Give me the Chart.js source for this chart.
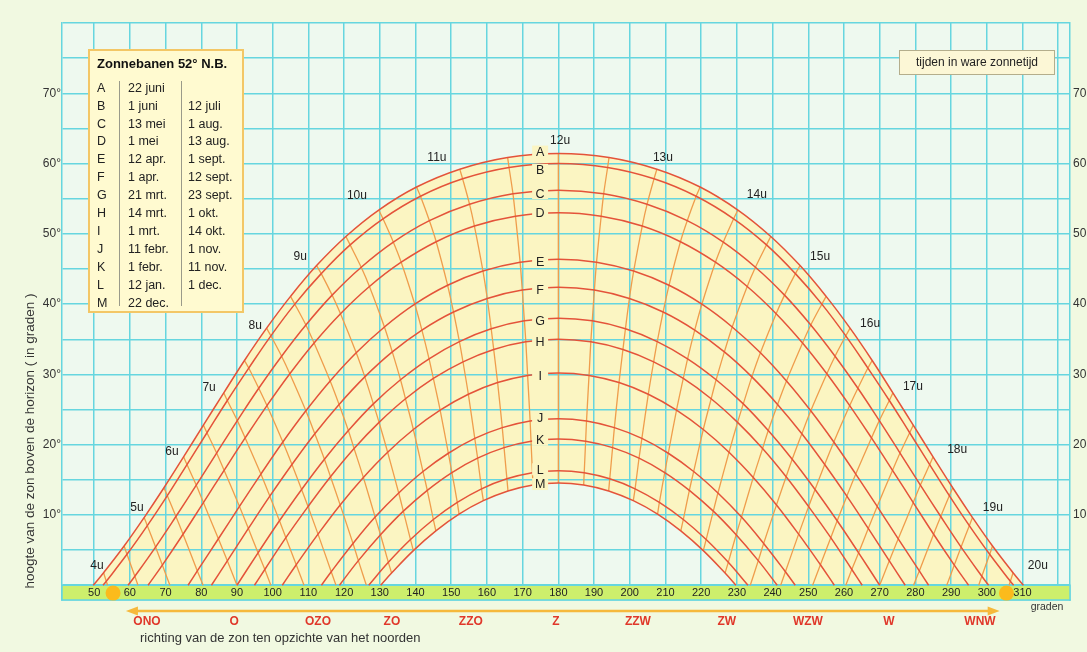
<!DOCTYPE html>
<html>
<head>
<meta charset="utf-8">
<script src="https://cdn.jsdelivr.net/npm/chart.js@4.4.1/dist/chart.umd.min.js"></script>
<style>
  html, body { margin: 0; padding: 0; background: #f1f9e1; }
  canvas { display: block; }
</style>
</head>
<body>
<canvas id="zonnebanen" width="1087" height="652"></canvas>
<script>
const _ = null;

// zonnebanen A..M, halve uren 4u, 4.30u ... 12u als [azimut, hoogte]
const curveNames = ['A', 'B', 'C', 'D', 'E', 'F', 'G', 'H', 'I', 'J', 'K', 'L', 'M'];
const sunriseAz = [49.75, 52.5, 59.5, 65.1, 76.3, 82.85, 90, 94.9, 102.7, 113.65, 118.7, 126.9, 130.25];

const pathA = [[52.65,1.78],[58.4,5.58],[64.0,9.63],[69.55,13.87],[75.05,18.27],[80.6,22.78],[86.3,27.37],[92.1,31.98],[98.3,36.58],[105.0,41.1],[112.3,45.48],[120.5,49.62],[129.7,53.38],[140.3,56.66],[152.4,59.2],[165.8,60.87],[180,61.44]];
const pathB = [[53.4,0.56],[59.2,4.4],[64.9,8.48],[70.5,12.75],[76.0,17.17],[81.6,21.7],[87.3,26.29],[93.3,30.9],[99.5,35.49],[106.2,40.0],[113.6,44.34],[121.7,48.43],[130.9,52.14],[141.4,55.35],[153.2,57.83],[166.2,59.44],[180,60.0]];
const pathC = [_,[61.4,1.28],[67.2,5.43],[72.9,9.78],[78.6,14.25],[84.3,18.81],[90.1,23.42],[96.1,28.03],[102.5,32.59],[109.3,37.03],[116.65,41.28],[124.8,45.25],[133.8,48.82],[143.9,51.87],[155.15,54.2],[167.3,55.69],[180,56.2]];
const pathD = [_,_,[69.1,2.87],[74.9,7.26],[80.6,11.76],[86.4,16.35],[92.3,20.96],[98.4,25.56],[104.8,30.09],[111.6,34.47],[119.0,38.64],[127.1,42.51],[136.0,45.96],[145.8,48.88],[156.5,51.11],[168.0,52.51],[180,53.0]];
const pathE = [_,_,_,[78.9,2.04],[84.8,6.61],[90.7,11.22],[96.7,15.82],[102.85,20.38],[109.3,24.82],[116.1,29.07],[123.4,33.08],[131.3,36.75],[139.8,39.99],[149.0,42.68],[158.9,44.7],[169.3,45.97],[180,46.4]];
const pathF = [_,_,_,_,[87.3,3.47],[93.2,8.08],[99.2,12.67],[105.4,17.18],[111.8,21.56],[118.6,25.73],[125.8,29.65],[133.5,33.2],[141.8,36.31],[150.65,38.88],[160.1,40.8],[169.9,42.0],[180,42.4]];
const pathG = [_,_,_,_,_,[95.9,4.61],[101.9,9.17],[108.1,13.63],[114.5,17.93],[121.2,22.01],[128.2,25.81],[135.8,29.24],[143.8,32.22],[152.3,34.67],[161.2,36.49],[170.5,37.62],[180,38.0]];
const pathH = [_,_,_,_,_,[97.8,2.24],[103.7,6.77],[109.9,11.19],[116.2,15.44],[122.8,19.46],[129.8,23.17],[137.2,26.53],[145.0,29.42],[153.3,31.79],[161.9,33.55],[170.9,34.63],[180,35.0]];
const pathI = [_,_,_,_,_,_,[106.6,2.92],[112.7,7.27],[118.9,11.43],[125.4,15.34],[132.2,18.93],[139.4,22.16],[146.9,24.92],[154.8,27.18],[163.0,28.84],[171.4,29.86],[180,30.2]];
const pathJ = [_,_,_,_,_,_,_,[116.4,1.93],[122.5,5.95],[128.7,9.7],[135.3,13.13],[142.1,16.18],[149.2,18.78],[156.6,20.89],[164.3,22.43],[172.1,23.38],[180,23.7]];
const pathK = [_,_,_,_,_,_,_,_,[124.0,3.5],[130.2,7.18],[136.6,10.54],[143.3,13.51],[150.2,16.04],[157.4,18.08],[164.8,19.58],[172.35,20.49],[180,20.8]];
const pathL = [_,_,_,_,_,_,_,_,_,[132.4,3.26],[138.6,6.5],[145.0,9.35],[151.7,11.78],[158.5,13.72],[165.6,15.14],[172.75,16.01],[180,16.3]];
const pathM = [_,_,_,_,_,_,_,_,_,[133.3,1.74],[139.4,4.93],[145.7,7.74],[152.2,10.12],[159.0,12.03],[165.9,13.42],[172.9,14.27],[180,14.56]];
const paths = [pathA, pathB, pathC, pathD, pathE, pathF, pathG, pathH, pathI, pathJ, pathK, pathL, pathM];

// waar een uurlijn de horizon raakt (ochtend)
const horizonAz = [53.76, 62.27, 71.22, 80.52, 90, 99.48, 108.78, 117.73, 126.24, _, _, _, _, _, _, _, _];

const letterAlt = [61.7, 59.1, 55.8, 53.1, 46.1, 42.1, 37.7, 34.7, 29.8, 23.8, 20.7, 16.5, 14.4];

const legendDate1 = ['22 juni', '1 juni', '13 mei', '1 mei', '12 apr.', '1 apr.', '21 mrt.', '14 mrt.', '1 mrt.', '11 febr.', '1 febr.', '12 jan.', '22 dec.'];
const legendDate2 = ['', '12 juli', '1 aug.', '13 aug.', '1 sept.', '12 sept.', '23 sept.', '1 okt.', '14 okt.', '1 nov.', '11 nov.', '1 dec.', ''];

const hourNames = ['4u', '5u', '6u', '7u', '8u', '9u', '10u', '11u', '12u', '13u', '14u', '15u', '16u', '17u', '18u', '19u', '20u'];
const hourLabelAz = [50.8, 62.0, 71.8, 82.2, 95.1, 107.7, 123.6, 146.0, 180.5, 209.3, 235.6, 253.3, 267.3, 279.3, 291.7, 301.7, 314.3];
const hourLabelAlt = [2.8, 11.0, 19.0, 28.1, 37.0, 46.8, 55.4, 60.8, 63.2, 60.8, 55.5, 46.8, 37.2, 28.2, 19.3, 11.0, 2.8];

const compassNames = ['ONO', 'O', 'OZO', 'ZO', 'ZZO', 'Z', 'ZZW', 'ZW', 'WZW', 'W', 'WNW'];
const compassAz = [64.8, 89.2, 112.7, 133.4, 155.5, 179.3, 202.3, 227.2, 249.9, 272.6, 298.1];

const X_MIN = 41, X_MAX = 323.3, Y_MIN = -2.1, Y_MAX = 80;
const xGridValues = [50, 60, 70, 80, 90, 100, 110, 120, 130, 140, 150, 160, 170, 180, 190, 200, 210, 220, 230, 240, 250, 260, 270, 280, 290, 300, 310, 320];
const xLabelValues = [50, 60, 70, 80, 90, 100, 110, 120, 130, 140, 150, 160, 170, 180, 190, 200, 210, 220, 230, 240, 250, 260, 270, 280, 290, 300, 310];
const yGridValues = [0, 5, 10, 15, 20, 25, 30, 35, 40, 45, 50, 55, 60, 65, 70, 75, 80];
const yLabelValues = [10, 20, 30, 40, 50, 60, 70];

const sunDotAz = [55.3, 305.5];
const arrowAz = [58.9, 303.6];

const FONT = '"Liberation Sans", Arial, Helvetica, sans-serif';
const gridColor = '#66d6df';
const plotBg = '#eef9ef';
const yellow = '#fbf5c2';
const curveColor = '#e4533a';
const hourColor = '#ef9d4c';
const bandColor = '#cdef6c';

//__________________________________________________________

function curvePoints(i) {
    const p = paths[i];
    const pts = [{ x: sunriseAz[i], y: 0 }];
    p.forEach(q => { if (q) pts.push({ x: q[0], y: q[1] }); });
    for (let k = p.length - 2; k >= 0; k--) {
        if (p[k]) pts.push({ x: 360 - p[k][0], y: p[k][1] });
    }
    pts.push({ x: 360 - sunriseAz[i], y: 0 });
    return pts;
}

function hourLinePoints(k, mirror) {
    const pts = [];
    paths.forEach(p => {
        if (p[k]) pts.push({ x: mirror ? 360 - p[k][0] : p[k][0], y: p[k][1] });
    });
    if (horizonAz[k] !== null) pts.push({ x: mirror ? 360 - horizonAz[k] : horizonAz[k], y: 0 });
    return pts;
}

const datasets = [];
// achtergrond van het diagram, geel vlak tussen A en M
datasets.push({ data: [{ x: X_MIN, y: Y_MAX }, { x: X_MAX, y: Y_MAX }], fill: 'start', backgroundColor: plotBg, borderWidth: 0, pointRadius: 0, order: 30 });
datasets.push({ data: curvePoints(0), fill: 'origin', backgroundColor: yellow, borderWidth: 0, pointRadius: 0, tension: 0.4, order: 29 });
datasets.push({ data: curvePoints(12), fill: 'origin', backgroundColor: plotBg, borderWidth: 0, pointRadius: 0, tension: 0.4, order: 28 });

for (let k = 0; k < horizonAz.length; k++) {
    datasets.push({ data: hourLinePoints(k, false), borderColor: hourColor, borderWidth: 1.3, pointRadius: 0, tension: 0.3, fill: false, order: 5 });
    if (k < horizonAz.length - 1) {
        datasets.push({ data: hourLinePoints(k, true), borderColor: hourColor, borderWidth: 1.3, pointRadius: 0, tension: 0.3, fill: false, order: 5 });
    }
}
curveNames.forEach((n, i) => {
    datasets.push({ label: n, data: curvePoints(i), borderColor: curveColor, borderWidth: 1.5, pointRadius: 0, tension: 0.4, fill: false, order: 2 });
});

const overlay = {
    id: 'overlay',
    beforeDatasetsDraw(chart) {
        const { ctx, chartArea: a, scales: { x, y } } = chart;
        const y0 = y.getPixelForValue(0);
        ctx.save();
        ctx.fillStyle = bandColor;
        ctx.fillRect(a.left, y0, a.right - a.left, a.bottom - y0);
        ctx.strokeStyle = gridColor;
        ctx.lineWidth = 1.5;
        ctx.strokeRect(a.left, y0, a.right - a.left, a.bottom - y0);
        ctx.restore();
    },
    afterDatasetsDraw(chart) {
        const { ctx, chartArea: a, scales: { x, y } } = chart;
        ctx.save();
        ctx.textAlign = 'center';
        ctx.textBaseline = 'middle';

        // letters op de middaglijn
        ctx.font = '12.5px ' + FONT;
        curveNames.forEach((n, i) => {
            const px = x.getPixelForValue(174.9);
            const py = y.getPixelForValue(letterAlt[i]);
            ctx.fillStyle = yellow;
            ctx.fillRect(px - 8, py - 6, 16, 12);
            ctx.fillStyle = '#222';
            ctx.fillText(n, px, py + 1);
        });

        // uren
        ctx.font = '12px ' + FONT;
        hourNames.forEach((h, i) => {
            ctx.fillStyle = '#222';
            ctx.fillText(h, x.getPixelForValue(hourLabelAz[i]), y.getPixelForValue(hourLabelAlt[i]));
        });

        // zonnetjes
        const yb = (y.getPixelForValue(0) + a.bottom) / 2 + 0.5;
        ctx.fillStyle = '#fbbb1c';
        sunDotAz.forEach(v => {
            ctx.beginPath();
            ctx.arc(x.getPixelForValue(v), yb, 7.5, 0, Math.PI * 2);
            ctx.fill();
        });

        // graden in de groene band
        ctx.font = '11px ' + FONT;
        ctx.fillStyle = '#222';
        xLabelValues.forEach(v => ctx.fillText(String(v), x.getPixelForValue(v), yb));
        ctx.restore();
    },
    afterDraw(chart) {
        const { ctx, chartArea: a, scales: { x } } = chart;
        ctx.save();

        // legenda
        ctx.fillStyle = '#fffad0';
        ctx.fillRect(89, 50, 154, 262);
        ctx.strokeStyle = '#f3c766';
        ctx.lineWidth = 2;
        ctx.strokeRect(89, 50, 154, 262);
        ctx.fillStyle = '#111';
        ctx.textBaseline = 'middle';
        ctx.textAlign = 'left';
        ctx.font = 'bold 13px ' + FONT;
        ctx.fillText('Zonnebanen 52° N.B.', 97, 64);
        ctx.font = '12.5px ' + FONT;
        curveNames.forEach((n, i) => {
            const ry = 88.3 + i * 17.9;
            ctx.fillStyle = '#222';
            ctx.fillText(n, 97, ry);
            ctx.fillText(legendDate1[i], 128, ry);
            ctx.fillText(legendDate2[i], 188, ry);
        });
        ctx.strokeStyle = '#9a9a8a';
        ctx.lineWidth = 1;
        [119.5, 181.5].forEach(lx => {
            ctx.beginPath(); ctx.moveTo(lx, 81); ctx.lineTo(lx, 306); ctx.stroke();
        });

        // tijden-kader
        ctx.fillStyle = '#fcf7d6';
        ctx.fillRect(899.5, 50.5, 155, 24);
        ctx.strokeStyle = '#b4ae8c';
        ctx.strokeRect(899.5, 50.5, 155, 24);
        ctx.fillStyle = '#222';
        ctx.textAlign = 'center';
        ctx.font = '12px ' + FONT;
        ctx.fillText('tijden in ware zonnetijd', 977, 63);

        // pijl
        const ya = a.bottom + 11;
        const xl = x.getPixelForValue(arrowAz[0]);
        const xr = x.getPixelForValue(arrowAz[1]);
        ctx.strokeStyle = '#f6b93c';
        ctx.fillStyle = '#f6b93c';
        ctx.lineWidth = 2.5;
        ctx.beginPath(); ctx.moveTo(xl + 8, ya); ctx.lineTo(xr - 8, ya); ctx.stroke();
        ctx.beginPath(); ctx.moveTo(xl, ya); ctx.lineTo(xl + 12, ya - 4.5); ctx.lineTo(xl + 12, ya + 4.5); ctx.closePath(); ctx.fill();
        ctx.beginPath(); ctx.moveTo(xr, ya); ctx.lineTo(xr - 12, ya - 4.5); ctx.lineTo(xr - 12, ya + 4.5); ctx.closePath(); ctx.fill();

        // windrichtingen
        ctx.font = 'bold 12px ' + FONT;
        ctx.fillStyle = '#e0382a';
        compassNames.forEach((c, i) => ctx.fillText(c, x.getPixelForValue(compassAz[i]), a.bottom + 22));

        ctx.fillStyle = '#333';
        ctx.font = '13px ' + FONT;
        ctx.textAlign = 'left';
        ctx.fillText('richting van de zon ten opzichte van het noorden', 140, a.bottom + 38);
        ctx.font = '10.5px ' + FONT;
        ctx.textAlign = 'center';
        ctx.fillText('graden', 1047, a.bottom + 7);

        // y-as titel
        ctx.translate(30, 441);
        ctx.rotate(-Math.PI / 2);
        ctx.font = '13.5px ' + FONT;
        ctx.fillText('hoogte van de zon boven de horizon ( in graden )', 0, 0);
        ctx.restore();
    }
};

const config = {
    type: 'scatter',
    data: { datasets: datasets },
    options: {
        responsive: false,
        animation: false,
        events: [],
        showLine: true,
        devicePixelRatio: 1,
        layout: { padding: { left: 0, right: 0, top: 23, bottom: 52 } },
        plugins: {
            legend: { display: false },
            tooltip: { enabled: false },
            filler: { drawTime: 'beforeDraw' }
        },
        scales: {
            x: {
                type: 'linear', min: X_MIN, max: X_MAX,
                afterBuildTicks: s => { s.ticks = xGridValues.map(v => ({ value: v })); },
                ticks: { display: false },
                grid: { color: gridColor, lineWidth: 1.5, drawTicks: false },
                border: { color: gridColor, width: 1.5 },
                afterFit: s => { s.height = 0; }
            },
            y: {
                type: 'linear', position: 'left', min: Y_MIN, max: Y_MAX,
                afterBuildTicks: s => { s.ticks = yGridValues.map(v => ({ value: v })); },
                ticks: {
                    autoSkip: false, padding: 1, color: '#333',
                    font: { family: FONT, size: 12 },
                    callback: v => yLabelValues.includes(v) ? v + '°' : ''
                },
                grid: { color: gridColor, lineWidth: 1.5, drawTicks: false },
                border: { color: gridColor, width: 1.5 },
                afterFit: s => { s.width = 62; }
            },
            y2: {
                type: 'linear', position: 'right', min: Y_MIN, max: Y_MAX,
                afterBuildTicks: s => { s.ticks = yGridValues.map(v => ({ value: v })); },
                ticks: {
                    autoSkip: false, padding: 3, color: '#333',
                    font: { family: FONT, size: 12 },
                    callback: v => yLabelValues.includes(v) ? String(v) : ''
                },
                grid: { display: false, drawTicks: false },
                border: { color: gridColor, width: 1.5 },
                afterFit: s => { s.width = 17; }
            }
        }
    },
    plugins: [overlay]
};

const zonChart = new Chart(document.getElementById('zonnebanen'), config);
</script>
</body>
</html>
